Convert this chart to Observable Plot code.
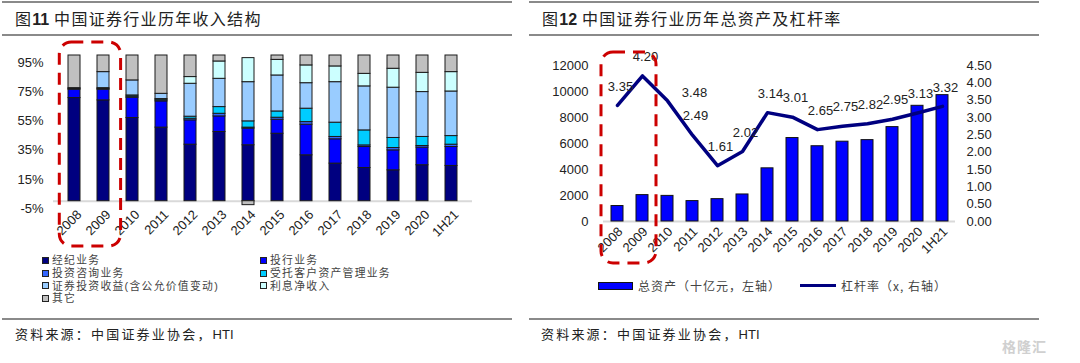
<!DOCTYPE html>
<html lang="zh-CN">
<head>
<meta charset="utf-8">
<script src="https://cdn.jsdelivr.net/npm/d3@7"></script>
<script src="https://cdn.jsdelivr.net/npm/@observablehq/plot@0.6"></script>
<style>
  body { margin: 0; background: #fff; }
  #wrap { position: relative; width: 1080px; height: 363px; overflow: hidden; font-family: "Noto Sans CJK SC", "Liberation Sans", sans-serif; }
  .hr { position: absolute; height: 0; border-top: 2px solid #8a8a8a; }
  .title { position: absolute; font-size: 16px; color: #222; letter-spacing: 1.3px; line-height: 20px; white-space: nowrap; }
  .title b { font-family: "Liberation Sans", Arial, sans-serif; font-weight: bold; letter-spacing: 0; }
  .src { position: absolute; font-size: 13px; color: #222; letter-spacing: 2.2px; line-height: 16px; white-space: nowrap; }
  .src span { font-family: "Liberation Sans", Arial, sans-serif; letter-spacing: 0; }
  .plot { position: absolute; }
  .leg { position: absolute; display: grid; grid-template-columns: 218px auto; grid-auto-rows: 12.8px; font-family: "Liberation Sans", "Noto Sans CJK SC", sans-serif; font-size: 10.8px; color: #444; line-height: 12.8px; letter-spacing: 1.3px; }
  .leg div { display: flex; align-items: center; white-space: nowrap; height: 12.8px; overflow: visible; }
  .sw { display: inline-block; flex: none; width: 5px; height: 5px; border: 1.2px solid #222; margin-right: 3px; }
  .leg2 { position: absolute; font-size: 12px; color: #444; display: flex; align-items: center; white-space: nowrap; letter-spacing: 1px; }
  #overlay { position: absolute; left: 0; top: 0; pointer-events: none; }
</style>
</head>
<body>
<div id="wrap">
  <div class="hr" style="left:2px;width:510px;top:1px"></div>
  <div class="hr" style="left:2px;width:510px;top:34px"></div>
  <div class="hr" style="left:529px;width:510px;top:1px"></div>
  <div class="hr" style="left:529px;width:510px;top:34px"></div>
  <div class="title" style="left:15px;top:8px">图<b>11</b> 中国证券行业历年收入结构</div>
  <div class="title" style="left:542px;top:8px">图<b>12</b> 中国证券行业历年总资产及杠杆率</div>
  <div class="hr" style="left:2px;width:510px;top:318px"></div>
  <div class="hr" style="left:529px;width:510px;top:318px"></div>
  <div class="src" style="left:15px;top:326px">资料来源：中国证券业协会，<span>HTI</span></div>
  <div class="src" style="left:541px;top:326px">资料来源：中国证券业协会，<span>HTI</span></div>
  <div style="position:absolute;left:1002px;top:336px;font-size:14px;color:#d0d0d0;font-weight:bold;letter-spacing:1px">格隆汇</div>
  <div id="left" class="plot" style="left:0;top:40px"></div>
  <div id="right" class="plot" style="left:540px;top:40px"></div>
  <div id="legL" class="leg" style="left:42px;top:254px"></div>
  <div id="legR"></div>
</div>
<script>
// ---------- Data: Figure 11 (revenue structure, %) ----------
const years = ["2008","2009","2010","2011","2012","2013","2014","2015","2016","2017","2018","2019","2020","1H21"];
const seriesNames = ["经纪业务","投行业务","投资咨询业务","受托客户资产管理业务","证券投资收益(含公允价值变动)","利息净收入","其它"];
const seriesColors = ["#000080","#0000FF","#3366FF","#00CCFF","#99CCFF","#CCFFFF","#C0C0C0"];
const brokerage   = [70.8, 69.2, 57.1, 50.5, 38.8, 47.5, 38.4, 46.3, 31.5, 25.8, 22.8, 21.2, 24.7, 24.2];
const underwriting= [ 5.7,  7.3, 13.9, 18.0, 16.7, 10.7, 11.4,  9.6, 21.0, 16.7, 14.4, 13.7, 12.1, 13.0];
const advisory    = [ 0.5,  0.5,  0.8,  0.8,  1.1,  1.8,  0.7,  1.4,  1.8,  1.6,  1.1,  1.6,  1.1,  1.6];
const assetMgmt   = [ 0.6,  0.6,  0.8,  0.8,  1.4,  4.6,  4.3,  4.3,  9.2,  9.8, 10.3,  6.9,  6.2,  5.9];
const investment  = [ 0.0, 11.0, 10.3,  3.6, 22.6, 19.4, 26.9, 24.7, 17.5, 27.8, 30.2, 34.5, 30.8, 30.6];
const interest    = [ 0.0,  0.0,  0.0,  0.0,  4.6, 11.9, 16.5, 10.7, 12.2, 10.8,  8.6, 13.0, 13.2, 13.3];
const others      = [22.4, 11.4, 17.1, 26.3, 14.8,  4.1, -2.7,  3.0,  6.8,  7.5, 12.6,  9.1, 11.9, 11.4];
const leftTicks = [-5, 15, 35, 55, 75, 95];

// ---------- Data: Figure 12 (total assets & leverage) ----------
const totalAssets = [1190, 2030, 1970, 1570, 1720, 2080, 4090, 6420, 5790, 6140, 6260, 7260, 8900, 9720];
const leverage    = [3.35, 4.20, 3.48, 2.49, 1.61, 2.02, 3.14, 3.01, 2.65, 2.75, 2.82, 2.95, 3.13, 3.32];
const assetTicks = [0, 2000, 4000, 6000, 8000, 10000, 12000];
const leverageTicks = [0, 0.5, 1, 1.5, 2, 2.5, 3, 3.5, 4, 4.5];
const legendR = ["总资产（十亿元，左轴）", "杠杆率（x, 右轴）"];

const seriesValues = [brokerage, underwriting, advisory, assetMgmt, investment, interest, others];
const leftData = [];
seriesNames.forEach((s, i) => years.forEach((y, j) => leftData.push({year: y, series: s, value: seriesValues[i][j]})));

const font = "'Liberation Sans', Arial, sans-serif";

const left = Plot.plot({
  width: 500, height: 210,
  marginLeft: 53, marginRight: 28, marginTop: 15, marginBottom: 42,
  x: {domain: years, paddingInner: 0.6, paddingOuter: 0.3, label: null},
  y: {domain: [-5, 100], label: null},
  color: {domain: seriesNames, range: seriesColors},
  style: {fontSize: "13px", fontFamily: font, color: "#222", background: "transparent", overflow: "visible"},
  marks: [
    Plot.ruleY([0], {stroke: "#d9d9d9", strokeWidth: 2}),
    Plot.barY(leftData, {x: "year", y: "value", fill: "series", order: seriesNames, stroke: "#1a1a1a", strokeWidth: 1}),
    Plot.axisY({ticks: leftTicks, tickFormat: d => d + "%", tickSize: 0, tickPadding: 10, label: null}),
    Plot.axisX({tickRotate: -45, tickSize: 0, tickPadding: 4, dx: 5, label: null})
  ]
});
document.getElementById("left").appendChild(left);

const ratio = 12000 / 4.5;
const rightData = years.map((y, i) => ({year: y, assets: totalAssets[i], lev: leverage[i]}));
const right = Plot.plot({
  width: 500, height: 230,
  marginLeft: 63, marginRight: 85, marginTop: 25, marginBottom: 49,
  x: {domain: years, paddingInner: 0.52, paddingOuter: 0.26, label: null},
  y: {domain: [0, 12000], label: null},
  style: {fontSize: "13px", fontFamily: font, color: "#222", background: "transparent", overflow: "visible"},
  marks: [
    Plot.ruleY([0], {stroke: "#d9d9d9", strokeWidth: 2}),
    Plot.barY(rightData, {x: "year", y: "assets", fill: "#0000FF", stroke: "#111", strokeWidth: 1}),
    Plot.line(rightData, {x: "year", y: d => d.lev * ratio, stroke: "#000080", strokeWidth: 3.5}),
    Plot.text(rightData.filter(d => d.year !== "2010"), {x: "year", y: d => d.lev * ratio, text: d => d.lev.toFixed(2), dy: -19, dx: 3, fill: "#222"}),
    Plot.text(rightData.filter(d => d.year === "2010"), {x: "year", y: d => d.lev * ratio, text: d => d.lev.toFixed(2), dy: -8, dx: 27, fill: "#222"}),
    Plot.axisY({anchor: "left", ticks: assetTicks, tickFormat: d => String(d), tickSize: 0, tickPadding: 15, label: null}),
    Plot.axisY({anchor: "right", ticks: leverageTicks.map(v => v * ratio), tickFormat: d => (d / ratio).toFixed(2), tickSize: 0, tickPadding: 11, label: null}),
    Plot.axisX({tickRotate: -45, tickSize: 0, tickPadding: 8, dx: 3, label: null})
  ]
});
document.getElementById("right").appendChild(right);

// Legend for figure 11
const legL = document.getElementById("legL");
seriesNames.forEach((s, i) => {
  const d = document.createElement("div");
  d.innerHTML = `<span class="sw" style="background:${seriesColors[i]}"></span><span>${s}</span>`;
  legL.appendChild(d);
});
// Legend for figure 12
const legR = document.getElementById("legR");
legR.innerHTML =
  `<div class="leg2" style="left:598px;top:277px"><span style="display:inline-block;width:33px;height:6px;background:#0000FF;border:1.2px solid #111;margin-right:5px"></span>${legendR[0]}</div>` +
  `<div class="leg2" style="left:800px;top:277px"><span style="display:inline-block;width:36px;height:0;border-top:3.5px solid #000080;margin-right:5px"></span>${legendR[1]}</div>`;

// Red dashed highlight boxes around 2008-2009
function bandFn(chart) {
  const s = chart.scale("x");
  if (s.apply) return {f: v => s.apply(v), bw: s.bandwidth, step: s.step};
  const b = d3.scaleBand(s.domain, s.range).paddingInner(s.paddingInner ?? 0.1).paddingOuter(s.paddingOuter ?? 0.1).align(s.align ?? 0.5);
  return {f: b, bw: b.bandwidth(), step: b.step()};
}
const ns = "http://www.w3.org/2000/svg";
const ov = document.createElementNS(ns, "svg");
ov.setAttribute("id", "overlay");
ov.setAttribute("width", 1080);
ov.setAttribute("height", 363);
document.getElementById("wrap").appendChild(ov);
function box(chart, offsetX, y0, y1, padL, padR) {
  const {f, bw, step} = bandFn(chart);
  const x0 = offsetX + f(years[0]) - padL * step;
  const x1 = offsetX + f(years[1]) + bw + padR * step;
  const r = document.createElementNS(ns, "rect");
  r.setAttribute("x", x0); r.setAttribute("y", y0);
  r.setAttribute("width", x1 - x0); r.setAttribute("height", y1 - y0);
  r.setAttribute("rx", 12); r.setAttribute("fill", "none");
  r.setAttribute("stroke", "#CC0000"); r.setAttribute("stroke-width", 3);
  r.setAttribute("stroke-dasharray", "12 8");
  ov.appendChild(r);
}
box(left, 0, 42, 246, 0.3, 0.4);
box(right, 540, 52, 263, 0.4, 0.32);
</script>
</body>
</html>
